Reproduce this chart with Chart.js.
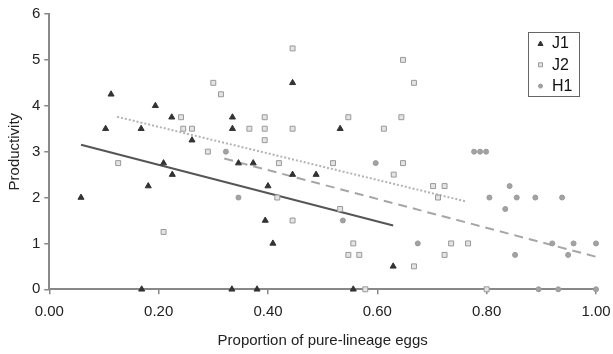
<!DOCTYPE html>
<html>
<head>
<meta charset="utf-8">
<script src="https://cdn.jsdelivr.net/npm/chart.js@4/dist/chart.umd.min.js"></script>
<style>
  html, body { margin: 0; padding: 0; background: #fff; }
  #wrap { width: 613px; height: 354px; }
</style>
</head>
<body>
<div id="wrap"><canvas id="myChart"></canvas></div>
<script>
// values (x = proportion, y = productivity)
const seriesNames = ['J1', 'J2', 'H1'];

const j1X = [0.058, 0.103, 0.113, 0.168, 0.169, 0.181, 0.194, 0.209, 0.224, 0.225, 0.261, 0.334, 0.335, 0.335, 0.346, 0.373, 0.380, 0.395, 0.400, 0.409, 0.445, 0.445, 0.488, 0.532, 0.556, 0.629];
const j1Y = [2.0, 3.5, 4.25, 3.5, 0, 2.25, 4.0, 2.75, 3.75, 2.5, 3.25, 0, 3.75, 3.5, 2.75, 2.75, 0, 1.5, 2.25, 1.0, 4.5, 2.5, 2.5, 3.5, 0, 0.5];

const j2X = [0.126, 0.209, 0.241, 0.245, 0.261, 0.290, 0.300, 0.314, 0.366, 0.394, 0.394, 0.394, 0.417, 0.420, 0.445, 0.445, 0.445, 0.519, 0.532, 0.547, 0.547, 0.556, 0.567, 0.578, 0.612, 0.630, 0.644, 0.647, 0.647, 0.667, 0.667, 0.702, 0.711, 0.723, 0.723, 0.735, 0.766, 0.800];
const j2Y = [2.75, 1.25, 3.75, 3.5, 3.5, 3.0, 4.5, 4.25, 3.5, 3.75, 3.5, 3.25, 2.0, 2.75, 5.25, 3.5, 1.5, 2.75, 1.75, 3.75, 0.75, 1.0, 0.75, 0, 3.5, 2.5, 3.75, 5.0, 2.75, 4.5, 0.5, 2.25, 2.0, 2.25, 0.75, 1.0, 1.0, 0];

const h1X = [0.323, 0.346, 0.537, 0.597, 0.674, 0.777, 0.788, 0.799, 0.805, 0.834, 0.842, 0.852, 0.855, 0.889, 0.895, 0.920, 0.931, 0.938, 0.949, 0.959, 1.0, 1.0];
const h1Y = [3.0, 2.0, 1.5, 2.75, 1.0, 3.0, 3.0, 3.0, 2.0, 1.75, 2.25, 0.75, 2.0, 2.0, 0, 1.0, 0, 2.0, 0.75, 1.0, 1.0, 0];

// fitted trend lines: [start, end]
const j1FitX = [0.058, 0.629];
const j1FitY = [3.15, 1.39];
const j2FitX = [0.124, 0.764];
const j2FitY = [3.76, 1.91];
const h1FitX = [0.32, 1.0];
const h1FitY = [2.85, 0.71];

const xTicks = [0, 0.2, 0.4, 0.6, 0.8, 1.0];
const yTicks = [0, 1, 2, 3, 4, 5, 6];

const pts = (xs, ys) => xs.map((x, i) => ({ x: x, y: ys[i] }));

const FONT = '"Liberation Sans", Arial, sans-serif';

const markerStyles = [
  { shape: 'triangle', fill: '#333', stroke: '#333' },
  { shape: 'rect', fill: '#e4e4e4', stroke: '#999' },
  { shape: 'circle', fill: '#a3a3a3', stroke: '#999' }
];

function drawMarker(ctx, m, x, y, r) {
  ctx.fillStyle = m.fill;
  ctx.strokeStyle = m.stroke;
  ctx.lineWidth = 1;
  ctx.beginPath();
  if (m.shape === 'triangle') {
    ctx.moveTo(x, y - r);
    ctx.lineTo(x + r, y + r * 0.8);
    ctx.lineTo(x - r, y + r * 0.8);
    ctx.closePath();
  } else if (m.shape === 'rect') {
    ctx.rect(x - r * 0.8, y - r * 0.8, r * 1.6, r * 1.6);
  } else {
    ctx.arc(x, y, r * 0.8, 0, Math.PI * 2);
  }
  ctx.fill();
  ctx.stroke();
}

// boxed legend inside the plot, top right
const boxLegend = {
  id: 'boxLegend',
  afterDraw(chart) {
    const { ctx, chartArea } = chart;
    const x0 = Math.round(chartArea.right - 68), y0 = Math.round(chartArea.top + 18);
    ctx.save();
    ctx.fillStyle = '#fff';
    ctx.fillRect(x0, y0, 51, 64);
    ctx.strokeStyle = '#666';
    ctx.lineWidth = 1;
    ctx.strokeRect(x0 + 0.5, y0 + 0.5, 51, 64);
    ctx.font = '16px ' + FONT;
    ctx.textBaseline = 'middle';
    seriesNames.forEach((name, i) => {
      const cy = y0 + 11.5 + i * 21.3;
      drawMarker(ctx, markerStyles[i], x0 + 12.5, cy, 2.5);
      ctx.fillStyle = '#111';
      ctx.fillText(name, x0 + 24, cy + 0.5);
    });
    ctx.restore();
  }
};

const scatterDs = (i, xs, ys, radius) => ({
  type: 'scatter',
  label: seriesNames[i],
  data: pts(xs, ys),
  pointStyle: markerStyles[i].shape,
  pointRadius: radius,
  pointHoverRadius: radius,
  backgroundColor: markerStyles[i].fill,
  borderColor: markerStyles[i].stroke,
  borderWidth: 1,
  clip: false,
  order: 1
});

const fitDs = (xs, ys, color, dash) => ({
  type: 'line',
  label: '',
  data: pts(xs, ys),
  borderColor: color,
  borderWidth: 2,
  borderDash: dash,
  pointRadius: 0,
  fill: false,
  order: 2
});

const ctx = document.getElementById('myChart').getContext('2d');

const myChart = new Chart(ctx, {
  type: 'scatter',
  data: {
    datasets: [
      scatterDs(0, j1X, j1Y, 3.5),
      scatterDs(1, j2X, j2Y, 3.5),
      scatterDs(2, h1X, h1Y, 2.5),
      fitDs(j1FitX, j1FitY, '#555', []),
      fitDs(j2FitX, j2FitY, '#b3b3b3', [2, 2]),
      fitDs(h1FitX, h1FitY, '#a6a6a6', [9, 6])
    ]
  },
  options: {
    responsive: true,
    maintainAspectRatio: false,
    animation: false,
    layout: { padding: { top: 14, right: 17, left: 0, bottom: 0 } },
    plugins: {
      legend: { display: false },
      tooltip: { enabled: false }
    },
    scales: {
      x: {
        type: 'linear',
        min: 0,
        max: 1,
        afterBuildTicks: (s) => { s.ticks = xTicks.map(v => ({ value: v })); },
        afterFit: (s) => { s.height = 64.7; s.paddingLeft = 0; s.paddingRight = 0; },
        ticks: {
          callback: (v) => Number(v).toFixed(2),
          color: '#222',
          font: { family: FONT, size: 15 },
          padding: 9
        },
        grid: { drawOnChartArea: false, drawTicks: true, tickLength: 5, color: '#888', lineWidth: 1.5 },
        border: { color: '#888', width: 2 },
        title: {
          display: true,
          text: 'Proportion of pure-lineage eggs',
          color: '#222',
          font: { family: FONT, size: 15 },
          padding: { top: 4, bottom: 4 }
        }
      },
      y: {
        min: 0,
        max: 6,
        afterBuildTicks: (s) => { s.ticks = yTicks.map(v => ({ value: v })); },
        afterFit: (s) => { s.width = 49.3; s.paddingTop = 0; s.paddingBottom = 0; },
        ticks: {
          color: '#222',
          font: { family: FONT, size: 15 },
          padding: 4
        },
        grid: { drawOnChartArea: false, drawTicks: true, tickLength: 5, color: '#888', lineWidth: 1.5 },
        border: { color: '#888', width: 2 },
        title: {
          display: true,
          text: 'Productivity',
          color: '#222',
          font: { family: FONT, size: 15 },
          padding: { top: 6, bottom: 4 }
        }
      }
    }
  },
  plugins: [boxLegend]
});
</script>
</body>
</html>
